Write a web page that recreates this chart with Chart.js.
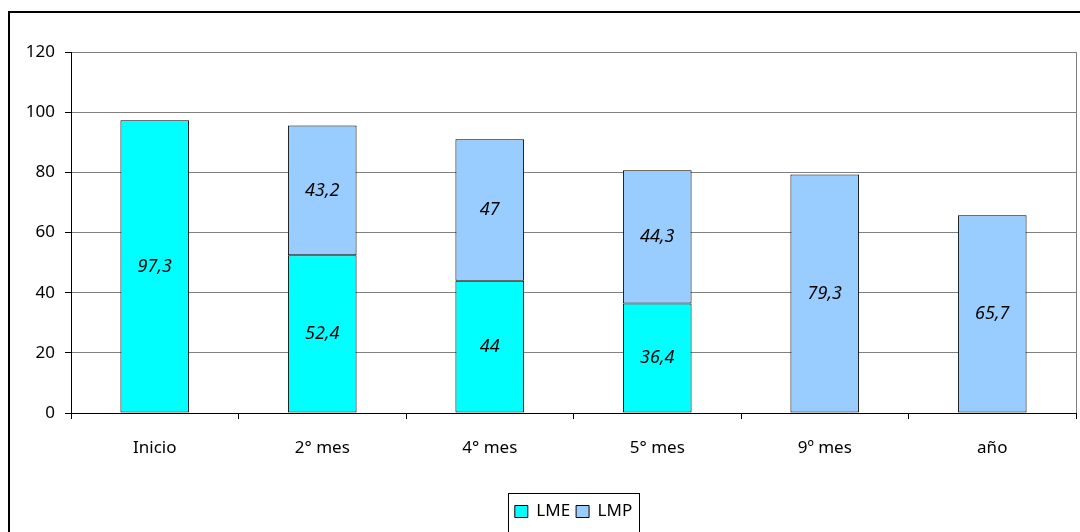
<!DOCTYPE html>
<html>
<head>
<meta charset="utf-8">
<script src="https://cdn.jsdelivr.net/npm/chart.js@4.4.0/dist/chart.umd.min.js"></script>
<style>
  html, body { margin: 0; padding: 0; background: #fff; }
  #wrap { width: 1080px; height: 532px; position: relative; }
</style>
</head>
<body>
<div id="wrap"><canvas id="c" width="1080" height="532"></canvas></div>
<script>
const categories = ["Inicio", "2° mes", "4° mes", "5° mes", "9º mes", "año"];
const lmeValues = [97.3, 52.4, 44, 36.4, 0, 0];
const lmpValues = [0, 43.2, 47, 44.3, 79.3, 65.7];
const seriesNames = ["LME", "LMP"];
const yTicks = [0, 20, 40, 60, 80, 100, 120];

const FONT = "'Noto Sans', 'DejaVu Sans', sans-serif";

const framePlugin = {
  id: 'frame',
  beforeDraw(chart) {
    const ctx = chart.ctx;
    ctx.save();
    ctx.fillStyle = '#fff';
    ctx.fillRect(0, 0, chart.width, chart.height);
    ctx.strokeStyle = '#000';
    ctx.lineWidth = 2;
    ctx.strokeRect(9, 12, chart.width + 20, chart.height + 20);
    ctx.restore();
  },
  afterDraw(chart) {
    const ctx = chart.ctx;
    const a = chart.chartArea;
    ctx.save();
    ctx.strokeStyle = '#808080';
    ctx.lineWidth = 1;
    ctx.beginPath();
    ctx.moveTo(Math.round(a.right) + 0.5, a.top);
    ctx.lineTo(Math.round(a.right) + 0.5, a.bottom);
    ctx.stroke();
    ctx.fillStyle = '#000';
    ctx.font = "italic 18px " + FONT;
    ctx.textAlign = 'center';
    ctx.textBaseline = 'middle';
    chart.data.datasets.forEach((ds, di) => {
      const meta = chart.getDatasetMeta(di);
      meta.data.forEach((bar, i) => {
        const v = ds.data[i];
        if (!v) return;
        const y = (bar.y + bar.base) / 2;
        ctx.fillText(String(v).replace('.', ','), bar.x, y);
      });
    });
    const lg = chart.legend;
    if (lg && lg.legendHitBoxes && lg.legendHitBoxes.length) {
      const hb = lg.legendHitBoxes;
      const x0 = hb[0].left - 7;
      const x1 = hb[hb.length - 1].left + hb[hb.length - 1].width + 7;
      ctx.strokeStyle = '#000';
      ctx.lineWidth = 1;
      ctx.strokeRect(Math.round(x0) + 0.5, 493.5, Math.round(x1 - x0), 60);
    }
    ctx.restore();
  }
};

new Chart(document.getElementById('c'), {
  type: 'bar',
  data: {
    labels: categories,
    datasets: [
      { label: seriesNames[0], data: lmeValues, backgroundColor: '#00FFFF', borderColor: '#000', borderWidth: 1, borderSkipped: false },
      { label: seriesNames[1], data: lmpValues, backgroundColor: '#99CCFF', borderColor: '#000', borderWidth: 1, borderSkipped: false }
    ]
  },
  options: {
    responsive: false,
    animation: false,
    devicePixelRatio: 1,
    layout: { padding: { top: 52, right: 4, left: 0, bottom: 2 } },
    datasets: { bar: { barPercentage: 0.41, categoryPercentage: 1.0 } },
    plugins: {
      legend: {
        position: 'bottom',
        fullSize: false,
        labels: {
          font: { family: FONT, size: 17 },
          color: '#000',
          boxWidth: 13,
          boxHeight: 12,
          padding: 6,
          generateLabels(chart) {
            return chart.data.datasets.map((ds, i) => ({
              text: ds.label, fillStyle: ds.backgroundColor, strokeStyle: '#000', lineWidth: 1, datasetIndex: i, hidden: false
            }));
          }
        }
      },
      tooltip: { enabled: false }
    },
    scales: {
      x: {
        stacked: true,
        grid: { display: true, drawOnChartArea: false, offset: true, color: '#000', tickLength: 6, lineWidth: 1 },
        border: { color: '#000' },
        ticks: { font: { family: FONT, size: 17 }, color: '#000', padding: 19 },
        afterFit(s) { s.height = 84; }
      },
      y: {
        stacked: true,
        min: 0, max: 120,
        afterBuildTicks(s) { s.ticks = yTicks.map(v => ({ value: v })); },
        grid: { color: '#808080', tickLength: 6, tickColor: '#000' },
        border: { color: '#000' },
        ticks: { font: { family: FONT, size: 17 }, color: '#000', padding: 10 },
        afterFit(s) { s.width = 71; }
      }
    }
  },
  plugins: [framePlugin]
});
</script>
</body>
</html>
